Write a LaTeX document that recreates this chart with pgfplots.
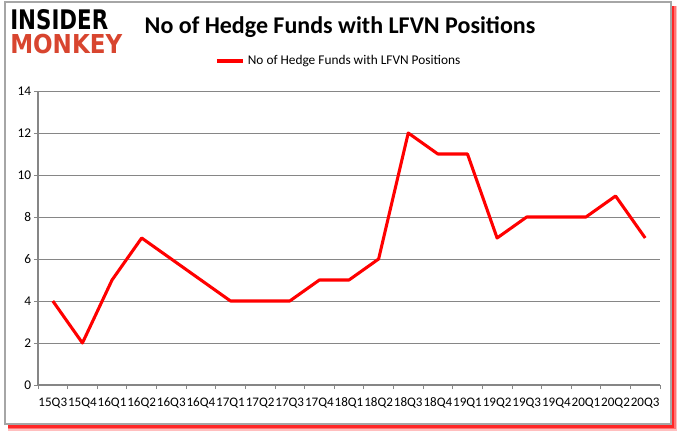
\documentclass[border=0pt]{standalone}
\usepackage{fontspec}
\setmainfont{Carlito}
\newfontfamily\logofont{DejaVu Sans}
\usepackage{graphicx}
\usepackage{pgfplots}
\pgfplotsset{compat=1.18}

\definecolor{gridgray}{HTML}{868686}
\definecolor{logored}{HTML}{D8452F}

\begin{document}
\begin{tikzpicture}
\begin{scope}[x=0.75pt,y=0.75pt]
\useasboundingbox (0,0) rectangle (677,431);
% frame with red shadow
\fill[red!25] (8,0) rectangle (677,425);
\fill[red!55] (8,1.5) rectangle (675.5,425);
\fill[red!85] (8,3) rectangle (674,425);
\filldraw[fill=white,draw=gray!70,line width=0.8pt] (5,7) rectangle (671,429);
% logo
\node[anchor=north west,inner sep=0pt] at (10,422)
  {\resizebox{73.5pt}{15pt}{\logofont\bfseries INSIDER}};
\node[anchor=north west,inner sep=0pt,text=logored] at (10,397)
  {\resizebox{84pt}{14.5pt}{\logofont\bfseries MONKEY}};
% title
\node[font=\fontsize{18}{21}\selectfont\bfseries] at (340,404)
  {No of Hedge Funds with LFVN Positions};
\end{scope}

\begin{axis}[
    at={(28.5pt,34.5pt)}, anchor=south west,
    scale only axis,
    width=466.5pt, height=220.5pt,
    xmin=-0.5, xmax=20.5,
    ymin=0, ymax=14,
    ytick={0,2,...,14},
    xtick={0,...,20},
    xticklabels={15Q3,15Q4,16Q1,16Q2,16Q3,16Q4,17Q1,17Q2,17Q3,17Q4,18Q1,18Q2,18Q3,18Q4,19Q1,19Q2,19Q3,19Q4,20Q1,20Q2,20Q3},
    minor xtick={-0.5,0.5,...,20.5},
    major x tick style={draw=none},
    minor tick length=3pt,
    major tick length=3pt,
    tick align=outside,
    tick style={gridgray, line width=0.6pt},
    axis x line*=bottom,
    axis y line*=left,
    axis line style={gridgray, line width=0.8pt, -},
    ymajorgrids=true,
    grid style={gridgray, line width=0.6pt},
    tick label style={font=\fontsize{10}{12}\selectfont},
    xticklabel style={font=\fontsize{9.8}{12}\selectfont, yshift=-3pt, inner xsep=0pt},
    /pgf/number format/assume math mode=true,
    yticklabel style={inner xsep=2pt},
    legend style={at={(0.484,1.102)}, anchor=center, draw=none,
        font=\fontsize{10}{12}\selectfont, inner sep=1pt},
    legend image code/.code={\draw[#1, line width=2.6pt] (0pt,0pt) -- (20pt,0pt);},
]
\addplot[red, line width=2.3pt, line join=round] coordinates {
(0,4) (1,2) (2,5) (3,7) (4,6) (5,5) (6,4) (7,4) (8,4) (9,5) (10,5)
(11,6) (12,12) (13,11) (14,11) (15,7) (16,8) (17,8) (18,8) (19,9) (20,7)
};
\addlegendentry{No of Hedge Funds with LFVN Positions}
\end{axis}
\end{tikzpicture}
\end{document}
